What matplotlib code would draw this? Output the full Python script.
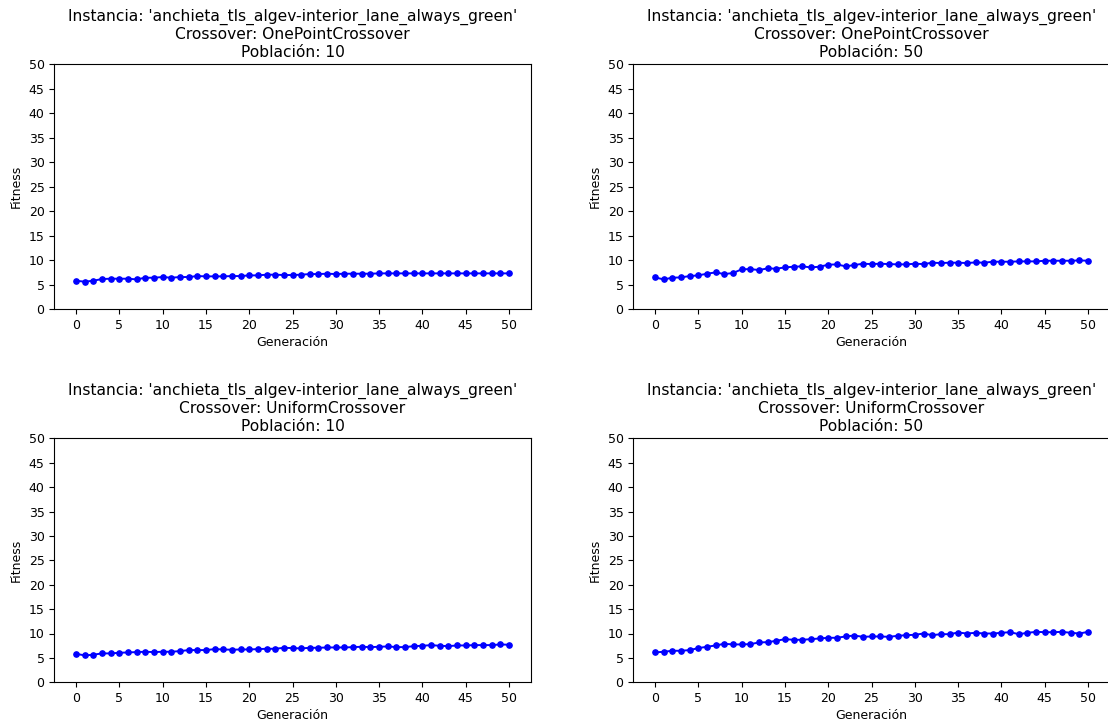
import matplotlib
matplotlib.use("Agg")
import matplotlib.pyplot as plt

plt.rcParams["font.size"] = 9

generaciones = list(range(51))

# Fitness por generación
fit_one_10 = [5.78, 5.58, 5.78, 6.12, 6.19, 6.19, 6.19, 6.05, 6.39, 6.39,
              6.53, 6.39, 6.53, 6.53, 6.73, 6.67, 6.67, 6.67, 6.73, 6.73,
              6.87, 6.87, 7.01, 7.01, 6.94, 6.94, 7.01, 7.14, 7.14, 7.21,
              7.14, 7.21, 7.21, 7.21, 7.21, 7.28, 7.28, 7.28, 7.28, 7.28,
              7.28, 7.28, 7.28, 7.28, 7.28, 7.28, 7.28, 7.28, 7.28, 7.28,
              7.28]
fit_one_50 = [6.46, 6.05, 6.39, 6.46, 6.73, 6.87, 7.21, 7.48, 7.14, 7.35,
              8.10, 8.16, 7.96, 8.30, 8.23, 8.50, 8.64, 8.71, 8.50, 8.64,
              9.05, 9.12, 8.71, 8.98, 9.25, 9.18, 9.25, 9.18, 9.12, 9.12,
              9.25, 9.18, 9.46, 9.39, 9.46, 9.46, 9.39, 9.52, 9.46, 9.66,
              9.66, 9.66, 9.73, 9.73, 9.73, 9.86, 9.86, 9.86, 9.86, 9.93,
              9.86]
fit_uni_10 = [5.85, 5.51, 5.65, 5.92, 5.92, 6.05, 6.12, 6.19, 6.26, 6.19,
              6.26, 6.26, 6.39, 6.60, 6.60, 6.60, 6.80, 6.73, 6.67, 6.73,
              6.73, 6.80, 6.87, 6.87, 7.07, 7.01, 6.94, 7.07, 7.07, 7.14,
              7.14, 7.14, 7.21, 7.28, 7.21, 7.28, 7.35, 7.21, 7.21, 7.41,
              7.48, 7.62, 7.48, 7.41, 7.55, 7.55, 7.62, 7.62, 7.62, 7.76,
              7.69]
fit_uni_50 = [6.12, 6.26, 6.46, 6.46, 6.60, 7.01, 7.28, 7.55, 7.89, 7.76,
              7.76, 7.82, 8.16, 8.23, 8.50, 8.84, 8.71, 8.71, 8.84, 8.98,
              9.12, 9.12, 9.39, 9.59, 9.32, 9.39, 9.39, 9.32, 9.52, 9.66,
              9.73, 10.00, 9.66, 9.86, 9.86, 10.20, 10.00, 10.14, 10.00, 10.00,
              10.14, 10.27, 9.86, 10.14, 10.34, 10.27, 10.27, 10.34, 10.14, 10.00,
              10.34]

crossovers = ["OnePointCrossover", "OnePointCrossover", "UniformCrossover", "UniformCrossover"]
poblaciones = [10, 50, 10, 50]
series = [fit_one_10, fit_one_50, fit_uni_10, fit_uni_50]
instancia = "anchieta_tls_algev-interior_lane_always_green"

fig = plt.figure(figsize=(11.08, 7.24), dpi=100)
posiciones = [[0.0490, 0.5732, 0.4300, 0.3380],
              [0.5716, 0.5732, 0.4300, 0.3380],
              [0.0490, 0.0576, 0.4300, 0.3370],
              [0.5716, 0.0576, 0.4300, 0.3370]]

for pos, cx, pob, ys in zip(posiciones, crossovers, poblaciones, series):
    ax = fig.add_axes(pos)
    ax.plot(generaciones, ys, color="blue", marker="o", markersize=3.8, linewidth=1.4)
    ax.set_ylim(0, 50)
    ax.set_yticks(range(0, 51, 5))
    ax.set_xticks(range(0, 51, 5))
    ax.set_xlabel("Generación", labelpad=3)
    ax.set_ylabel("Fitness")
    ax.set_title(f"Instancia: '{instancia}'\nCrossover: {cx}\nPoblación: {pob}",
                 fontsize=11.2, pad=5.5)

fig.savefig("out.png", dpi=100)
